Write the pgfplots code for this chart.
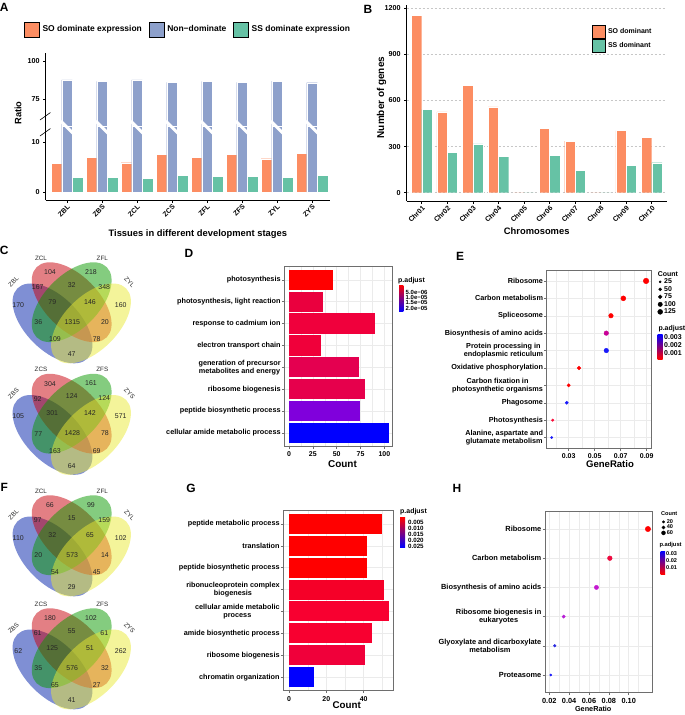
\documentclass[border=0pt]{standalone}
\usepackage{pgfplots}
\pgfplotsset{compat=1.18}
\usepackage{fontspec}
\setmainfont{Liberation Sans}
\newcommand{\fsz}[1]{\fontsize{#1}{#1}\selectfont}
\definecolor{soC}{HTML}{FC8D62}
\definecolor{nonC}{HTML}{8DA0CB}
\definecolor{ssC}{HTML}{66C2A5}
\definecolor{gridC}{HTML}{EBEBEB}
\definecolor{frameC}{HTML}{6E6E6E}
\definecolor{vB}{RGB}{0,31,169}
\definecolor{vR}{RGB}{200,0,10}
\definecolor{vG}{RGB}{10,153,0}
\definecolor{vY}{RGB}{233,233,53}
\definecolor{midC}{RGB}{200,0,130}
\definecolor{pR}{RGB}{255,0,0}
\definecolor{pB}{RGB}{0,0,255}
\definecolor{dA}{RGB}{234,0,62}
\definecolor{dB}{RGB}{240,0,60}
\definecolor{dC}{RGB}{240,0,58}
\definecolor{dD}{RGB}{228,0,80}
\definecolor{dE}{RGB}{230,0,76}
\definecolor{dF}{RGB}{128,0,220}
\definecolor{gA}{RGB}{245,0,40}
\definecolor{gB}{RGB}{248,0,48}
\definecolor{gC}{RGB}{240,0,58}
\definecolor{eCr}{RGB}{250,10,55}
\definecolor{eMa}{RGB}{200,0,150}
\definecolor{eBl}{RGB}{25,25,250}
\definecolor{hCr}{RGB}{238,10,63}
\definecolor{hMa}{RGB}{196,24,208}
\definecolor{hPu}{RGB}{184,32,214}
\definecolor{hBl}{RGB}{42,42,224}
\pgfplotsset{
  every axis/.append style={/pgf/number format/assume math mode=true, /pgf/number format/1000 sep={}},
  sqA/.style={legend image code/.code={\fill[##1] (0bp,-7.5bp) rectangle (15bp,7.5bp);}},
  sqB/.style={legend image code/.code={\fill[##1] (0bp,-6.65bp) rectangle (13.3bp,6.65bp);}},
  dotleg/.style={legend image code/.code={\draw[##1] plot coordinates {(0bp,0bp)};}},
  classic/.style={scale only axis, anchor=south west,
    axis line style={black, line width=0.7bp},
    tick style={black, line width=0.6bp},
    tick align=outside, major tick length=2.5bp,
    tick label style={font=\fsz{7.2}\bfseries},
    scaled ticks=false},
  gopanel/.style={scale only axis, anchor=south west,
    axis line style={draw=frameC, line width=0.6bp},
    tick style={draw=frameC, line width=0.5bp},
    tick align=outside, major tick length=2.5bp, minor tick length=0bp,
    tick pos=left,
    xmajorgrids, xminorgrids, ymajorgrids,
    major grid style={draw=gridC, line width=0.5bp},
    minor grid style={draw=gridC, line width=0.25bp},
    tick label style={font=\fsz{7}\bfseries},
    yticklabel style={align=center, font=\fontsize{7.3}{7.9}\selectfont\bfseries, inner sep=1bp},
    scaled ticks=false},
  venn/.style={scale only axis, anchor=south west, width=145bp, height=120bp,
    xmin=0, xmax=145, ymin=250, ymax=370, y dir=reverse, hide axis, clip=false},
}
\tikzset{vnum/.style={font=\fsz{7}, text=black!85, inner sep=0pt},
  vlab/.style={font=\fsz{6.3}, text=black!85, inner sep=0pt}}
\newcommand{\vennell}{%
  \fill[vB, fill opacity=0.5, rotate around={-45:(axis cs:52.5,323.4)}] (axis cs:52.5,323.4) ellipse [x radius=49.6bp, y radius=26.9bp];
  \fill[vR, fill opacity=0.5, rotate around={-45:(axis cs:71.7,302.2)}] (axis cs:71.7,302.2) ellipse [x radius=49.6bp, y radius=26.9bp];
  \fill[vG, fill opacity=0.5, rotate around={45:(axis cs:71.7,302.2)}] (axis cs:71.7,302.2) ellipse [x radius=49.6bp, y radius=26.9bp];
  \fill[vY, fill opacity=0.5, rotate around={45:(axis cs:91,323.4)}] (axis cs:91,323.4) ellipse [x radius=49.6bp, y radius=26.9bp];
}
\newcommand{\vennA}[9]{%
  \node[vnum] at (axis cs:50,272.3) {#1};
  \node[vnum] at (axis cs:91,271.7) {#2};
  \node[vnum] at (axis cs:37.7,287.3) {#3};
  \node[vnum] at (axis cs:71.7,285) {#4};
  \node[vnum] at (axis cs:104.3,286.7) {#5};
  \node[vnum] at (axis cs:18.3,305) {#6};
  \node[vnum] at (axis cs:52.3,301.7) {#7};
  \node[vnum] at (axis cs:90,301.7) {#8};
  \node[vnum] at (axis cs:120.7,305) {#9};
}
\newcommand{\vennB}[6]{%
  \node[vnum] at (axis cs:38.3,322.3) {#1};
  \node[vnum] at (axis cs:72.3,321.7) {#2};
  \node[vnum] at (axis cs:105,321.7) {#3};
  \node[vnum] at (axis cs:55,339.3) {#4};
  \node[vnum] at (axis cs:96.7,339.3) {#5};
  \node[vnum] at (axis cs:71.7,354.3) {#6};
}
\newcommand{\vennL}[4]{%
  \node[vlab] at (axis cs:41,258.3) {#1};
  \node[vlab] at (axis cs:102.3,258.3) {#2};
  \node[vlab, rotate=45] at (axis cs:13.5,282) {#3};
  \node[vlab, rotate=-45] at (axis cs:129.5,282) {#4};
}
\begin{document}
\begin{tikzpicture}
\path[use as bounding box] (0bp,0bp) rectangle (685bp,-715bp);

% ---------------- Panel A (lower part) ----------------
\begin{axis}[classic, at={(45.7bp,-200bp)}, width=284.3bp, height=74bp,
  xmin=-0.609, xmax=7.514, ymin=-1.61, ymax=13.28,
  axis x line*=bottom, axis y line*=left,
  xtick={0,...,7}, xticklabels={ZBL,ZBS,ZCL,ZCS,ZFL,ZFS,ZYL,ZYS},
  xticklabel style={rotate=45, anchor=north east, font=\fsz{7}\bfseries, inner sep=1bp},
  ytick={0,10},
  xlabel={Tissues in different development stages},
  xlabel style={at={(axis description cs:0.535,-0.459)}, anchor=center, font=\fsz{9.4}\bfseries},
  ylabel={Ratio},
  ylabel style={at={(axis description cs:-0.0974,1.176)}, anchor=center, font=\fsz{9.3}\bfseries}]
\addplot[ybar, bar width=10.67bp, bar shift=-10.67bp, fill=soC, draw=white, line width=0.3bp]
  coordinates {(0,5.8)(1,7.0)(2,5.9)(3,7.6)(4,7.0)(5,7.6)(6,6.7)(7,7.8)};
\addplot[ybar, bar width=10.67bp, bar shift=0bp, fill=nonC, draw=white, line width=0.3bp]
  coordinates {(0,87.6)(1,86.7)(2,87.6)(3,86.1)(4,86.7)(5,86.1)(6,86.9)(7,85.8)};
\addplot[ybar, bar width=10.67bp, bar shift=10.67bp, fill=ssC, draw=white, line width=0.3bp]
  coordinates {(0,2.9)(1,3.0)(2,2.8)(3,3.4)(4,3.2)(5,3.2)(6,3.0)(7,3.3)};
\end{axis}

% ---------------- Panel A (upper part) ----------------
\begin{axis}[classic, at={(45.7bp,-126bp)}, width=284.3bp, height=73bp,
  xmin=-0.609, xmax=7.514, ymin=57.57, ymax=105.2,
  axis x line=none, axis y line*=left,
  xtick=\empty, ytick={75,100},
  legend style={at={(axis description cs:-0.0763,1.322)}, anchor=west, draw=none, fill=none,
    inner sep=0pt, legend columns=3, font=\fsz{8.5}\bfseries,
    /tikz/every odd column/.append style={column sep=1bp},
    /tikz/every even column/.append style={column sep=5bp}}]
\addplot[ybar, bar width=10.67bp, bar shift=0bp, fill=nonC, draw=white, line width=0.3bp, forget plot]
  coordinates {(0,87.6)(1,86.7)(2,87.6)(3,86.1)(4,86.7)(5,86.1)(6,86.9)(7,85.8)};
\addlegendimage{sqA, fill=soC}
\addlegendentry{SO dominate expression}
\addlegendimage{sqA, fill=nonC}
\addlegendentry{Non−dominate}
\addlegendimage{sqA, fill=ssC}
\addlegendentry{SS dominate expression}
\end{axis}
\foreach \i in {0,...,7}{
  \draw[white, line width=3bp] ({(60.8+35*\i)*1bp},-121bp) -- ({(73.2+35*\i)*1bp},-133.5bp);
}
\draw[black, line width=0.6bp] (40bp,-120bp) -- (50.5bp,-112.5bp);
\draw[black, line width=0.6bp] (40bp,-136bp) -- (50.5bp,-128.5bp);

% ---------------- Panel B ----------------
\begin{axis}[classic, at={(406.7bp,-201bp)}, width=260bp, height=196bp,
  xmin=0.413, xmax=10.587, ymin=-54, ymax=1220.6,
  axis x line*=bottom, axis y line*=left,
  xtick={1,...,10}, xticklabels={Chr01,Chr02,Chr03,Chr04,Chr05,Chr06,Chr07,Chr08,Chr09,Chr10},
  xticklabel style={rotate=45, anchor=north east, font=\fsz{7}\bfseries, inner sep=1bp},
  ytick={0,300,600,900,1200},
  ymajorgrids, major grid style={draw=black!22, dash pattern=on 2bp off 2bp, line width=0.5bp},
  xlabel={Chromosomes},
  xlabel style={at={(axis description cs:0.5,-0.153)}, anchor=center, font=\fsz{9.4}\bfseries},
  ylabel={Number of genes},
  ylabel style={at={(axis description cs:-0.0962,0.528)}, anchor=center, font=\fsz{10}\bfseries},
  legend style={at={(axis description cs:0.7115,0.898)}, anchor=north west, draw=none, fill=none,
    inner sep=0pt, row sep=0pt, font=\fsz{7}\bfseries,
    /tikz/every odd column/.append style={column sep=0.5bp}},
  legend cell align=left]
\addplot[ybar, bar width=10.3bp, bar shift=-5.15bp, fill=soC, draw=white, line width=0.3bp, forget plot]
  coordinates {(1,1153)(2,526)(3,699)(4,558)(5,0)(6,420)(7,335)(8,0)(9,404)(10,359)};
\addplot[ybar, bar width=10.3bp, bar shift=5.15bp, fill=ssC, draw=white, line width=0.3bp, forget plot]
  coordinates {(1,541)(2,264)(3,318)(4,238)(5,0)(6,244)(7,147)(8,0)(9,180)(10,195)};
\addlegendimage{sqB, fill=soC}
\addlegendentry{SO dominant}
\addlegendimage{sqB, fill=ssC}
\addlegendentry{SS dominant}
\end{axis}

% ---------------- Venn diagrams (C, F) ----------------
\begin{axis}[venn, at={(0bp,-370bp)}]
\vennell
\vennL{ZCL}{ZFL}{ZBL}{ZYL}
\vennA{104}{218}{167}{32}{348}{170}{79}{146}{160}
\vennB{36}{1315}{20}{109}{78}{47}
\end{axis}
\begin{axis}[venn, at={(0bp,-481.5bp)}]
\vennell
\vennL{ZCS}{ZFS}{ZBS}{ZYS}
\vennA{304}{161}{92}{124}{124}{105}{301}{142}{571}
\vennB{77}{1428}{78}{163}{69}{64}
\end{axis}
\begin{axis}[venn, at={(0bp,-603bp)}]
\vennell
\vennL{ZCL}{ZFL}{ZBL}{ZYL}
\vennA{66}{99}{97}{15}{159}{110}{32}{65}{102}
\vennB{20}{573}{14}{54}{45}{29}
\end{axis}
\begin{axis}[venn, at={(0bp,-716bp)}]
\vennell
\vennL{ZCS}{ZFS}{ZBS}{ZYS}
\vennA{180}{102}{61}{55}{61}{62}{125}{51}{262}
\vennB{35}{576}{32}{65}{27}{41}
\end{axis}

% ---------------- Panel D ----------------
\begin{axis}[gopanel, at={(284.3bp,-446bp)}, width=108.4bp, height=179.3bp,
  xmin=-4.9, xmax=108.7, ymin=0.4, ymax=8.6,
  xtick={0,25,50,75,100}, minor xtick={12.5,37.5,62.5,87.5},
  ytick={1,...,8},
  yticklabels={cellular amide metabolic process, peptide biosynthetic process, ribosome biogenesis,
    {generation of precursor\\metabolites and energy}, electron transport chain, response to cadmium ion,
    {photosynthesis, light reaction}, photosynthesis},
  xlabel={Count},
  xlabel style={at={(axis description cs:0.537,-0.1004)}, anchor=center, font=\fsz{10}\bfseries}]
\addplot[xbar, bar width=20.3bp, bar shift=0pt, fill=pB, draw=none] coordinates {(105,1)};
\addplot[xbar, bar width=20.3bp, bar shift=0pt, fill=dF, draw=none] coordinates {(74,2)};
\addplot[xbar, bar width=20.3bp, bar shift=0pt, fill=dE, draw=none] coordinates {(80,3)};
\addplot[xbar, bar width=20.3bp, bar shift=0pt, fill=dD, draw=none] coordinates {(73,4)};
\addplot[xbar, bar width=20.3bp, bar shift=0pt, fill=dC, draw=none] coordinates {(34,5)};
\addplot[xbar, bar width=20.3bp, bar shift=0pt, fill=dB, draw=none] coordinates {(90.5,6)};
\addplot[xbar, bar width=20.3bp, bar shift=0pt, fill=dA, draw=none] coordinates {(36,7)};
\addplot[xbar, bar width=20.3bp, bar shift=0pt, fill=pR, draw=none] coordinates {(46.4,8)};
\end{axis}

% ---------------- Panel G ----------------
\begin{axis}[gopanel, at={(283.3bp,-690.3bp)}, width=110bp, height=179.6bp,
  xmin=-3.05, xmax=55.9, ymin=0.4, ymax=8.6,
  xtick={0,20,40}, minor xtick={10,30,50},
  ytick={1,...,8},
  yticklabels={chromatin organization, ribosome biogenesis, amide biosynthetic process,
    {cellular amide metabolic\\process}, {ribonucleoprotein complex\\biogenesis},
    peptide biosynthetic process, translation, peptide metabolic process},
  xlabel={Count},
  xlabel style={at={(axis description cs:0.576,-0.0818)}, anchor=center, font=\fsz{9.8}\bfseries}]
\addplot[xbar, bar width=20bp, bar shift=0pt, fill=pB, draw=none] coordinates {(13.2,1)};
\addplot[xbar, bar width=20bp, bar shift=0pt, fill=gC, draw=none] coordinates {(40.5,2)};
\addplot[xbar, bar width=20bp, bar shift=0pt, fill=gB, draw=none] coordinates {(44.6,3)};
\addplot[xbar, bar width=20bp, bar shift=0pt, fill=gB, draw=none] coordinates {(53.7,4)};
\addplot[xbar, bar width=20bp, bar shift=0pt, fill=gA, draw=none] coordinates {(50.7,5)};
\addplot[xbar, bar width=20bp, bar shift=0pt, fill=pR, draw=none] coordinates {(41.6,6)};
\addplot[xbar, bar width=20bp, bar shift=0pt, fill=pR, draw=none] coordinates {(41.6,7)};
\addplot[xbar, bar width=20bp, bar shift=0pt, fill=pR, draw=none] coordinates {(50.0,8)};
\end{axis}

% ---------------- Panel E ----------------
\begin{axis}[gopanel, at={(546.7bp,-448bp)}, width=104.3bp, height=177.5bp,
  xmin=0.01308, xmax=0.0933, ymin=0.4, ymax=10.6,
  xtick={0.03,0.05,0.07,0.09}, minor xtick={0.02,0.04,0.06,0.08},
  xticklabel style={/pgf/number format/fixed, /pgf/number format/fixed zerofill, /pgf/number format/precision=2},
  ytick={1,...,10},
  yticklabels={{Alanine, aspartate and\\glutamate metabolism}, Photosynthesis, Phagosome,
    {Carbon fixation in\\photosynthetic organisms}, Oxidative phosphorylation,
    {Protein processing in\\endoplasmic reticulum}, Biosynthesis of amino acids, Spliceosome,
    Carbon metabolism, Ribosome},
  xlabel={GeneRatio},
  xlabel style={at={(axis description cs:0.607,-0.093)}, anchor=center, font=\fsz{9.6}\bfseries},
  legend style={at={(axis description cs:1.0623,0.9555)}, anchor=north west, draw=none, fill=none,
    inner sep=0pt, row sep=1bp, font=\fsz{7}\bfseries,
    nodes={inner sep=0.5bp, text height=4.5bp, text depth=1bp},
    /tikz/every odd column/.append style={column sep=1bp}},
  legend cell align=left]
\addplot[only marks, mark=*, mark size=2.8, color=pR, forget plot] coordinates {(0.0895,10)};
\addplot[only marks, mark=*, mark size=2.5, color=pR, forget plot] coordinates {(0.0720,9)};
\addplot[only marks, mark=*, mark size=2.3, color=pR, forget plot] coordinates {(0.0625,8)};
\addplot[only marks, mark=*, mark size=2.3, color=eMa, forget plot] coordinates {(0.0589,7)};
\addplot[only marks, mark=*, mark size=2.3, color=eBl, forget plot] coordinates {(0.0589,6)};
\addplot[only marks, mark=*, mark size=1.85, color=pR, forget plot] coordinates {(0.0379,5)};
\addplot[only marks, mark=*, mark size=1.65, color=pR, forget plot] coordinates {(0.0300,4)};
\addplot[only marks, mark=*, mark size=1.65, color=eBl, forget plot] coordinates {(0.0285,3)};
\addplot[only marks, mark=*, mark size=1.3, color=eCr, forget plot] coordinates {(0.0177,2)};
\addplot[only marks, mark=*, mark size=1.15, color=eBl, forget plot] coordinates {(0.0169,1)};
\addlegendimage{dotleg, mark=*, mark size=1.1, black}
\addlegendentry{25}
\addlegendimage{dotleg, mark=*, mark size=1.55, black}
\addlegendentry{50}
\addlegendimage{dotleg, mark=*, mark size=1.9, black}
\addlegendentry{75}
\addlegendimage{dotleg, mark=*, mark size=2.2, black}
\addlegendentry{100}
\addlegendimage{dotleg, mark=*, mark size=2.5, black}
\addlegendentry{125}
\end{axis}

% ---------------- Panel H ----------------
\begin{axis}[gopanel, at={(545bp,-692.5bp)}, width=107.7bp, height=181bp,
  xmin=0.01566, xmax=0.1242, ymin=0.4, ymax=6.6,
  xtick={0.02,0.04,0.06,0.08,0.10}, minor xtick={0.03,0.05,0.07,0.09,0.11},
  xticklabel style={/pgf/number format/fixed, /pgf/number format/fixed zerofill, /pgf/number format/precision=2, font=\fsz{7.4}\bfseries},
  ytick={1,...,6},
  yticklabels={Proteasome, {Glyoxylate and dicarboxylate\\metabolism}, {Ribosome biogenesis in\\eukaryotes},
    Biosynthesis of amino acids, Carbon metabolism, Ribosome},
  yticklabel style={font=\fontsize{7.45}{8}\selectfont\bfseries},
  xlabel={GeneRatio},
  xlabel style={at={(axis description cs:0.448,-0.0928)}, anchor=center, font=\fsz{7.3}\bfseries},
  legend style={at={(axis description cs:1.0799,0.9575)}, anchor=north west, draw=none, fill=none,
    inner sep=0pt, row sep=0.5bp, font=\fsz{5.6}\bfseries,
    nodes={inner sep=0.3bp, text height=3.6bp, text depth=0.8bp},
    /tikz/every odd column/.append style={column sep=1bp}},
  legend cell align=left]
\addplot[only marks, mark=*, mark size=2.7, color=pR, forget plot] coordinates {(0.1194,6)};
\addplot[only marks, mark=*, mark size=2.35, color=hCr, forget plot] coordinates {(0.0810,5)};
\addplot[only marks, mark=*, mark size=2.15, color=hMa, forget plot] coordinates {(0.0675,4)};
\addplot[only marks, mark=*, mark size=1.65, color=hPu, forget plot] coordinates {(0.0345,3)};
\addplot[only marks, mark=*, mark size=1.35, color=hBl, forget plot] coordinates {(0.0255,2)};
\addplot[only marks, mark=*, mark size=1.15, color=eBl, forget plot] coordinates {(0.0214,1)};
\addlegendimage{dotleg, mark=*, mark size=1.15, black}
\addlegendentry{20}
\addlegendimage{dotleg, mark=*, mark size=1.6, black}
\addlegendentry{40}
\addlegendimage{dotleg, mark=*, mark size=2.0, black}
\addlegendentry{60}
\end{axis}

% ---------------- colour bars and legend titles ----------------
\node[anchor=west, font=\fsz{7}\bfseries, inner sep=0pt] at (398bp,-280.7bp) {p.adjust};
\shade[top color=pR, middle color=midC, bottom color=pB] (399bp,-285bp) rectangle (403.3bp,-311.7bp);
\foreach \t/\y in {5.0e−06/292.3, 1.0e−05/297.7, 1.5e−05/302.7, 2.0e−05/308.3}{
  \node[anchor=west, font=\fsz{6}\bfseries, inner sep=0pt] at (405.5bp,-\y bp) {\t};
}
\node[anchor=west, font=\fsz{7}\bfseries, inner sep=0pt] at (400bp,-511.7bp) {p.adjust};
\shade[top color=pR, middle color=midC, bottom color=pB] (400bp,-517.7bp) rectangle (405bp,-547.3bp);
\foreach \t/\y in {0.005/522.3, 0.010/528, 0.015/534, 0.020/540, 0.025/546}{
  \node[anchor=west, font=\fsz{6.2}\bfseries, inner sep=0pt] at (408bp,-\y bp) {\t};
}
\node[anchor=west, font=\fsz{7}\bfseries, inner sep=0pt] at (657.7bp,-274.3bp) {Count};
\node[anchor=west, font=\fsz{7}\bfseries, inner sep=0pt] at (658.3bp,-328.3bp) {p.adjust};
\shade[top color=pB, middle color=midC, bottom color=pR] (657.7bp,-334.3bp) rectangle (662.7bp,-359bp);
\foreach \t/\y in {0.003/337.3, 0.002/345, 0.001/352.7}{
  \node[anchor=west, font=\fsz{7}\bfseries, inner sep=0pt] at (664bp,-\y bp) {\t};
}
\node[anchor=west, font=\fsz{5.6}\bfseries, inner sep=0pt] at (661bp,-514bp) {Count};
\node[anchor=west, font=\fsz{5.8}\bfseries, inner sep=0pt] at (659.3bp,-545bp) {p.adjust};
\shade[top color=pB, middle color=midC, bottom color=pR] (660.7bp,-551bp) rectangle (665bp,-574bp);
\foreach \t/\y in {0.03/553.3, 0.02/560.7, 0.01/567.3}{
  \node[anchor=west, font=\fsz{5.6}\bfseries, inner sep=0pt] at (666bp,-\y bp) {\t};
}

% ---------------- panel letters ----------------
\foreach \l/\x/\y in {A/4.2/7.5, B/368/9, C/4.2/250, D/189/253, E/460/256.7, F/4.2/487, G/191/488, H/457/488.3}{
  \node[font=\fsz{12}\bfseries, inner sep=0pt] at (\x bp,-\y bp) {\l};
}
\end{tikzpicture}
\end{document}
